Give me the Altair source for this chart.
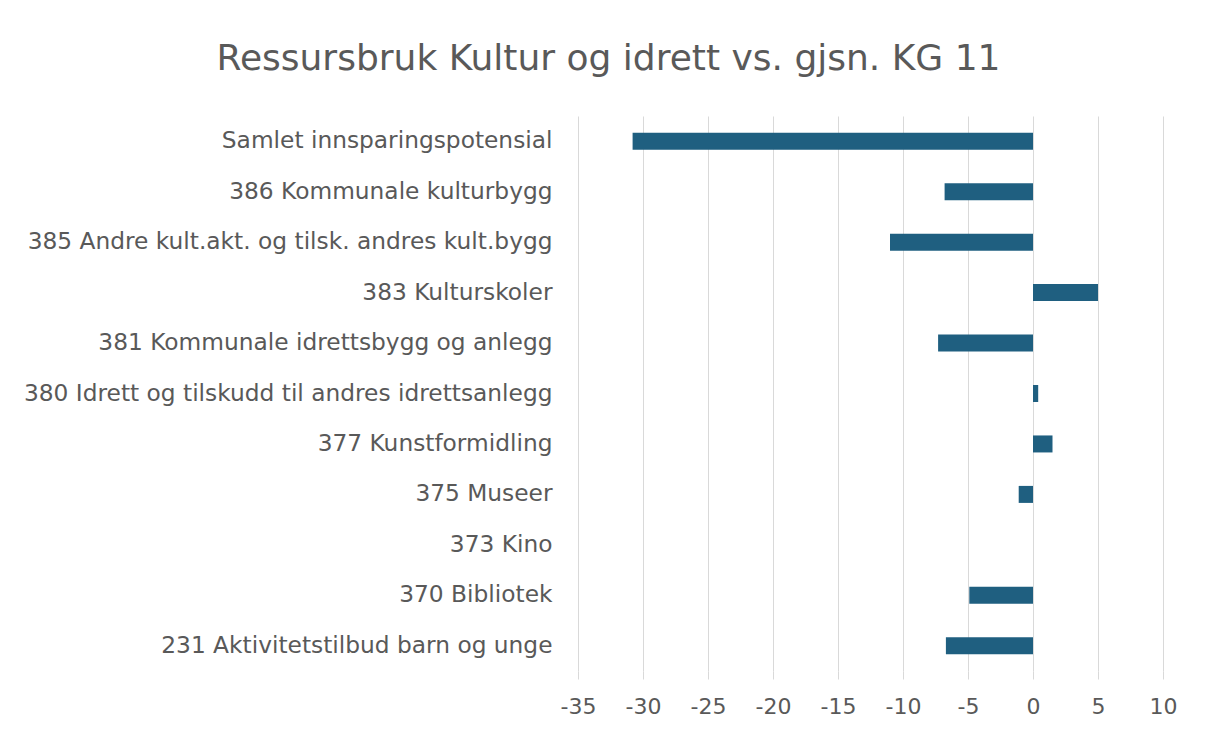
import altair as alt
import pandas as pd

categories = [
    "Samlet innsparingspotensial",
    "386 Kommunale kulturbygg",
    "385 Andre kult.akt. og tilsk. andres kult.bygg",
    "383 Kulturskoler",
    "381 Kommunale idrettsbygg og anlegg",
    "380 Idrett og tilskudd til andres idrettsanlegg",
    "377 Kunstformidling",
    "375 Museer",
    "373 Kino",
    "370 Bibliotek",
    "231 Aktivitetstilbud barn og unge",
]
values = [-30.8, -6.8, -11.0, 5.0, -7.3, 0.4, 1.5, -1.1, 0.0, -4.9, -6.7]
x_ticks = [-35, -30, -25, -20, -15, -10, -5, 0, 5, 10]

df = pd.DataFrame({"kategori": categories, "verdi": values})

FONT = "DejaVu Sans"
GRAY = "#595959"

chart = (
    alt.Chart(df)
    .mark_bar(color="#1f5f80", size=17)
    .encode(
        x=alt.X(
            "verdi:Q",
            scale=alt.Scale(domain=[-35, 10], nice=False),
            axis=alt.Axis(
                values=x_ticks,
                title=None,
                grid=True,
                gridColor="#d9d9d9",
                gridWidth=1,
                domain=False,
                ticks=True,
                tickColor="#d9d9d9",
                tickSize=8,
                labelFont=FONT,
                labelFontSize=22,
                labelColor=GRAY,
                labelPadding=17,
                labelFlush=False,
                labelExpr="'' + datum.value",
            ),
        ),
        y=alt.Y(
            "kategori:N",
            sort=categories,
            scale=alt.Scale(paddingInner=0.66, paddingOuter=0.33),
            axis=alt.Axis(
                title=None,
                domain=False,
                ticks=False,
                grid=False,
                labelFont=FONT,
                labelFontSize=23.3,
                labelColor=GRAY,
                labelPadding=26,
                labelLimit=700,
            ),
        ),
    )
    .properties(
        width=585,
        height=555,
        view=alt.ViewBackground(strokeOpacity=0, strokeWidth=0),
        title=alt.TitleParams(
            "Ressursbruk Kultur og idrett vs. gjsn. KG 11",
            font=FONT,
            fontSize=36,
            fontWeight="normal",
            color=GRAY,
            anchor="middle",
            dx=-262,
            offset=38,
        ),
        autosize=alt.AutoSizeParams(type="none"),
        padding={"left": 570, "right": 35, "top": 108, "bottom": 61},
    )
    .configure_view(strokeOpacity=0, strokeWidth=0)
    .configure(background="white")
)

chart.save("out.html", embed_options={"renderer": "svg", "actions": False})
